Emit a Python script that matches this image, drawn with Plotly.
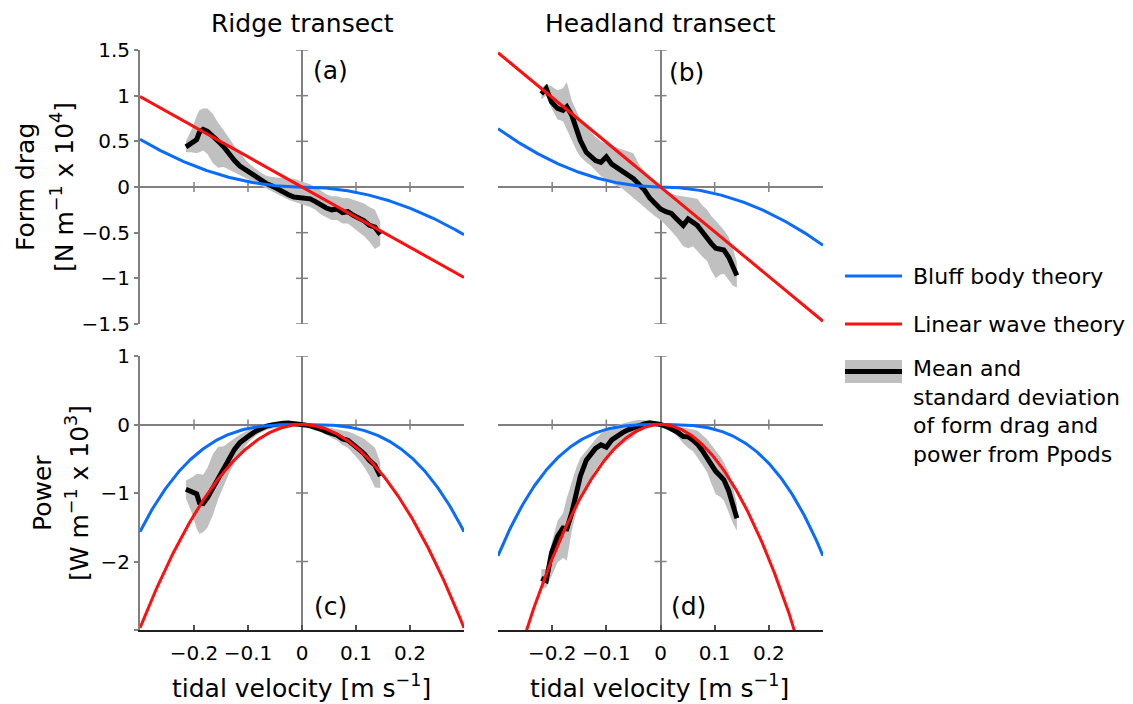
import numpy as np
import plotly.graph_objects as go

# ---------------- data ----------------
# Ridge transect: tidal velocity (m/s), form drag mean and mean +/- std (x 1e4 N/m)
u_ridge = [-0.215, -0.205, -0.195, -0.19, -0.183, -0.175, -0.165, -0.155, -0.145, -0.135,
           -0.125, -0.115, -0.105, -0.095, -0.085, -0.075, -0.065, -0.055, -0.045, -0.035,
           -0.025, -0.015, -0.005, 0.005, 0.015, 0.025, 0.035, 0.045, 0.055, 0.065,
           0.075, 0.085, 0.095, 0.105, 0.115, 0.125, 0.135, 0.145]
drag_ridge = [0.44, 0.48, 0.52, 0.60, 0.63, 0.61, 0.56, 0.50, 0.44, 0.36,
              0.29, 0.23, 0.19, 0.155, 0.11, 0.07, 0.035, 0.01, -0.025, -0.055,
              -0.085, -0.11, -0.115, -0.12, -0.13, -0.16, -0.20, -0.23, -0.25, -0.24,
              -0.28, -0.27, -0.31, -0.34, -0.37, -0.42, -0.44, -0.52]
drag_ridge_hi = [0.50, 0.62, 0.78, 0.84, 0.86, 0.86, 0.80, 0.70, 0.62, 0.53,
                 0.45, 0.38, 0.30, 0.24, 0.19, 0.15, 0.12, 0.11, 0.10, 0.10,
                 0.09, 0.09, 0.07, 0.05, 0.03, 0.00, -0.04, -0.08, -0.10, -0.10,
                 -0.12, -0.12, -0.14, -0.16, -0.18, -0.22, -0.25, -0.38]
drag_ridge_lo = [0.38, 0.38, 0.37, 0.38, 0.40, 0.36, 0.26, 0.21, 0.22, 0.19,
                 0.16, 0.13, 0.10, 0.07, 0.04, 0.01, -0.02, -0.05, -0.08, -0.11,
                 -0.14, -0.16, -0.18, -0.20, -0.22, -0.25, -0.30, -0.33, -0.36, -0.36,
                 -0.40, -0.40, -0.45, -0.49, -0.54, -0.60, -0.68, -0.64]

# Headland transect
u_head = [-0.22, -0.211, -0.201, -0.19, -0.18, -0.173, -0.164, -0.155, -0.148, -0.137,
          -0.128, -0.12, -0.11, -0.10, -0.09, -0.08, -0.07, -0.06, -0.05, -0.04,
          -0.03, -0.02, -0.01, 0.0, 0.01, 0.02, 0.03, 0.042, 0.051, 0.06,
          0.068, 0.077, 0.086, 0.094, 0.102, 0.11, 0.117, 0.126, 0.134, 0.141]
drag_head = [1.02, 1.08, 0.93, 0.86, 0.84, 0.88, 0.79, 0.62, 0.51, 0.38,
             0.33, 0.29, 0.27, 0.33, 0.25, 0.21, 0.17, 0.13, 0.09, 0.03,
             -0.03, -0.12, -0.18, -0.24, -0.27, -0.29, -0.35, -0.42, -0.35, -0.38,
             -0.42, -0.49, -0.57, -0.62, -0.67, -0.68, -0.69, -0.77, -0.87, -0.97]
drag_head_hi = [1.08, 1.13, 1.10, 1.06, 1.08, 1.15, 0.95, 0.82, 0.74, 0.66,
                0.60, 0.55, 0.50, 0.47, 0.45, 0.43, 0.41, 0.39, 0.37, 0.25,
                0.17, 0.10, 0.04, -0.02, -0.04, -0.07, -0.09, -0.10, -0.11, -0.12,
                -0.13, -0.20, -0.25, -0.32, -0.37, -0.42, -0.47, -0.55, -0.68, -0.82]
drag_head_lo = [0.96, 1.00, 0.86, 0.74, 0.72, 0.62, 0.52, 0.40, 0.33, 0.27,
                0.23, 0.18, 0.12, 0.08, 0.04, 0.01, -0.02, -0.06, -0.11, -0.17,
                -0.22, -0.27, -0.32, -0.36, -0.42, -0.48, -0.55, -0.65, -0.67, -0.65,
                -0.70, -0.76, -0.81, -0.92, -1.00, -0.96, -0.95, -1.02, -1.08, -1.10]

# Theory coefficients: bluff body F = -Cb*u|u|, linear wave F = -Cl*u  (x 1e4 N/m)
bluff_coef = {"ridge": 5.8, "head": 7.1}
linear_coef = {"ridge": 3.3, "head": 4.9}

x_ticks = [-0.3, -0.2, -0.1, 0.0, 0.1, 0.2, 0.3]
x_ticktext = ["", "\u22120.2", "\u22120.1", "0", "0.1", "0.2", ""]
drag_ticks = [-1.5, -1.0, -0.5, 0.0, 0.5, 1.0, 1.5]
drag_ticktext = ["\u22121.5", "\u22121", "\u22120.5", "0", "0.5", "1", "1.5"]
power_ticks = [-3, -2, -1, 0, 1]
power_ticktext = ["", "\u22122", "\u22121", "0", "1"]

# ---------------- style ----------------
W, H = 1133, 704
FONT = "DejaVu Sans"
BLUE = "#0A6CFF"
RED = "#FF1010"
BAND = "#C0C0C0"
AXIS = "#808080"


def px(x):
    return x / W


def py(y):
    return 1 - y / H


fig = go.Figure()
u_theory = np.linspace(-0.3, 0.3, 301)

panels = [
    # (key, u, mean, hi, lo, xaxis, yaxis, quantity)
    ("ridge", u_ridge, drag_ridge, drag_ridge_hi, drag_ridge_lo, "x", "y", "drag"),
    ("head", u_head, drag_head, drag_head_hi, drag_head_lo, "x2", "y2", "drag"),
    ("ridge", u_ridge, drag_ridge, drag_ridge_hi, drag_ridge_lo, "x3", "y3", "power"),
    ("head", u_head, drag_head, drag_head_hi, drag_head_lo, "x4", "y4", "power"),
]

for key, u, mean, hi, lo, xa, ya, q in panels:
    u = np.array(u)
    mean, hi, lo = np.array(mean), np.array(hi), np.array(lo)
    cb, cl = bluff_coef[key], linear_coef[key]
    bluff = -cb * u_theory * np.abs(u_theory)
    linear = -cl * u_theory
    if q == "power":
        # power = drag x velocity, in units of 1e3 W/m
        mean, hi, lo = 10 * u * mean, 10 * u * hi, 10 * u * lo
        bluff, linear = 10 * u_theory * bluff, 10 * u_theory * linear
    fig.add_trace(go.Scatter(
        x=np.concatenate([u, u[::-1]]), y=np.concatenate([hi, lo[::-1]]),
        fill="toself", fillcolor=BAND, line=dict(width=0), mode="lines",
        hoverinfo="skip", showlegend=False, xaxis=xa, yaxis=ya))
    fig.add_trace(go.Scatter(x=u, y=mean, mode="lines",
                             line=dict(color="black", width=5),
                             showlegend=False, xaxis=xa, yaxis=ya))
    fig.add_trace(go.Scatter(x=u_theory, y=bluff, mode="lines",
                             line=dict(color=BLUE, width=3),
                             showlegend=False, xaxis=xa, yaxis=ya))
    fig.add_trace(go.Scatter(x=u_theory, y=linear, mode="lines",
                             line=dict(color=RED, width=3),
                             showlegend=False, xaxis=xa, yaxis=ya))

xdom_l = [px(140), px(464)]
xdom_r = [px(498), px(823)]
ydom_t = [py(324), py(50)]
ydom_b = [py(630), py(356)]

tickfont = dict(family=FONT, size=20, color="black")
base_x = dict(range=[-0.3, 0.3], zeroline=True, zerolinecolor=AXIS, zerolinewidth=2,
              showgrid=False, fixedrange=True, automargin=False)
base_y = dict(zeroline=True, zerolinecolor=AXIS, zerolinewidth=2, showgrid=False,
              fixedrange=True, automargin=False)

top_x = dict(base_x, showline=False, showticklabels=False, ticks="")
bot_x = dict(base_x, showline=True, linecolor="#202020", linewidth=1.5,
             ticks="inside", ticklen=5, tickwidth=1.5, tickcolor="#505050",
             tickvals=x_ticks, ticktext=x_ticktext, tickfont=tickfont,
             ticklabelstandoff=4)
left_y = dict(base_y, showline=True, linecolor=AXIS, linewidth=2, ticks="outside",
              ticklen=4, tickwidth=1.5, tickcolor=AXIS, tickfont=tickfont)
plain_y = dict(base_y, showline=False, showticklabels=False, ticks="")

fig.update_layout(
    template="none",
    width=W, height=H, autosize=False, margin=dict(l=0, r=0, t=0, b=0, pad=0),
    plot_bgcolor="white", paper_bgcolor="white", showlegend=False,
    xaxis=dict(top_x, domain=xdom_l, anchor="y"),
    xaxis2=dict(top_x, domain=xdom_r, anchor="y2"),
    xaxis3=dict(bot_x, domain=xdom_l, anchor="y3"),
    xaxis4=dict(bot_x, domain=xdom_r, anchor="y4"),
    yaxis=dict(left_y, domain=ydom_t, anchor="x", range=[-1.5, 1.5],
               tickvals=drag_ticks, ticktext=drag_ticktext),
    yaxis2=dict(plain_y, domain=ydom_t, anchor="x2", range=[-1.5, 1.5]),
    yaxis3=dict(left_y, domain=ydom_b, anchor="x3", range=[-3, 1],
                tickvals=power_ticks, ticktext=power_ticktext),
    yaxis4=dict(plain_y, domain=ydom_b, anchor="x4", range=[-3, 1]),
)

# crossing tick marks on the zero lines
shapes = []
tick_line = dict(color=AXIS, width=1.5)
for xa, ya, yt in [("x", "y", drag_ticks), ("x2", "y2", drag_ticks),
                   ("x3", "y3", power_ticks[1:]), ("x4", "y4", power_ticks[1:])]:
    for t in x_ticks[1:-1]:
        if t == 0:
            continue
        shapes.append(dict(type="line", xref=xa, yref=ya, x0=t, x1=t,
                           ysizemode="pixel", yanchor=0, y0=-5, y1=5,
                           line=tick_line, layer="below"))
    for t in yt:
        if t == 0:
            continue
        shapes.append(dict(type="line", xref=xa, yref=ya, y0=t, y1=t,
                           xsizemode="pixel", xanchor=0, x0=-6, x1=6,
                           line=tick_line, layer="below"))

# legend glyphs
shapes += [
    dict(type="line", xref="paper", yref="paper", x0=px(845), x1=px(902),
         y0=py(276), y1=py(276), line=dict(color=BLUE, width=3)),
    dict(type="line", xref="paper", yref="paper", x0=px(845), x1=px(902),
         y0=py(324), y1=py(324), line=dict(color=RED, width=3)),
    dict(type="rect", xref="paper", yref="paper", x0=px(845), x1=px(902),
         y0=py(383), y1=py(360), fillcolor=BAND, line=dict(width=0)),
    dict(type="line", xref="paper", yref="paper", x0=px(845), x1=px(902),
         y0=py(371.5), y1=py(371.5), line=dict(color="black", width=5)),
]
fig.update_layout(shapes=shapes)


def label(text, x, y, size=25, angle=0, xanchor="center", align="center"):
    return dict(text=text, x=px(x), y=py(y), xref="paper", yref="paper",
                showarrow=False, textangle=angle, xanchor=xanchor, yanchor="middle",
                align=align, font=dict(family=FONT, size=size, color="black"))


annotations = [
    label("Ridge transect", 302, 24),
    label("Headland transect", 660, 24),
    label("(a)", 330, 71), label("(b)", 686, 72),
    label("(c)", 330, 606), label("(d)", 688, 606),
    label("tidal velocity [m s<sup>\u22121</sup>]", 301, 686),
    label("tidal velocity [m s<sup>\u22121</sup>]", 659, 686),
    label("Form drag", 25, 187, angle=-90),
    label("[N m<sup>\u22121</sup> x 10<sup>4</sup>]", 62, 187, angle=-90),
    label("Power", 42, 493, angle=-90),
    label("[W m<sup>\u22121</sup> x 10<sup>3</sup>]", 77, 493, angle=-90),
    label("Bluff body theory", 911, 276, size=22, xanchor="left", align="left"),
    label("Linear wave theory", 911, 324, size=22, xanchor="left", align="left"),
    label("Mean and<br>standard deviation<br>of form drag and<br>power from Ppods",
          911, 411.5, size=22, xanchor="left", align="left"),
]
fig.update_layout(annotations=annotations)

fig.write_html("out.html")
